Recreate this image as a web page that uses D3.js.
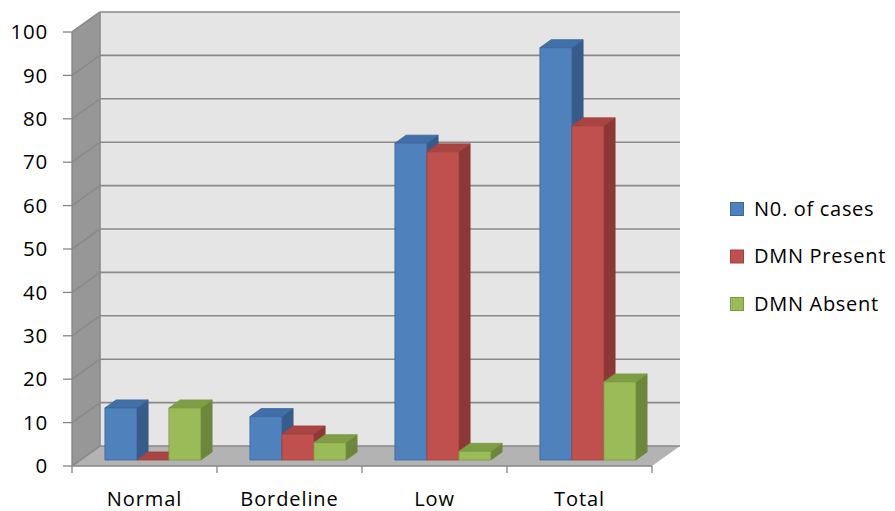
<!DOCTYPE html>
<html><head><meta charset="utf-8">
<script src="https://cdn.jsdelivr.net/npm/d3@7"></script>
<style>
html,body{margin:0;padding:0;background:#fff;}
svg{display:block;}
text{font-family:"Open Sans",sans-serif;fill:#000;}
</style></head>
<body>
<svg id="c" width="895" height="511"></svg>
<script>
const categories = ["Normal", "Bordeline", "Low", "Total"];
const seriesNames = ["N0. of cases", "DMN Present", "DMN Absent"];
const casesValues = [12, 10, 73, 95];
const presentValues = [0, 6, 71, 77];
const absentValues = [12, 4, 2, 18];
const yTicks = [0, 10, 20, 30, 40, 50, 60, 70, 80, 90, 100];
const seriesValues = [casesValues, presentValues, absentValues];

const colors = [
  {front:"#4F81BD", top:"#416FA8", side:"#375C89", stroke:"#3B6699"},
  {front:"#C0504D", top:"#A84442", side:"#8B3836", stroke:"#9E403D"},
  {front:"#9BBB59", top:"#7F9D45", side:"#6C873B", stroke:"#7C9A43"}
];

const svg = d3.select("#c");
const DX = 28, DY = -20;           // full depth offset
const x = d3.scaleBand().domain(categories).range([72, 652]);
const y = d3.scaleLinear().domain([0, 100]).range([466, 32]);
const xs = d3.scaleBand().domain(d3.range(seriesNames.length)).range([0, x.bandwidth()])
  .paddingInner(0).paddingOuter(0.766);
const P = (px, py, d) => [px + DX * d, py + DY * d];
const poly = pts => pts.map(p => p.join(",")).join(" ");

const y0 = y(0), y100 = y(100), xL = x.range()[0], xR = x.range()[1];

// back wall
svg.append("polygon").attr("points", poly([P(xL,y100,1),P(xR,y100,1),P(xR,y0,1),P(xL,y0,1)]))
  .attr("fill", "#E5E5E5");
// left wall
svg.append("polygon").attr("points", poly([[xL,y100],P(xL,y100,1),P(xL,y0,1),[xL,y0]]))
  .attr("fill", "#979797");
// floor
svg.append("polygon").attr("points", poly([[xL,y0],[xR,y0],P(xR,y0,1),P(xL,y0,1)]))
  .attr("fill", "#B3B3B3");

// gridlines
const g = svg.append("g").attr("stroke", "#8A8A8A").attr("stroke-width", 1.6).attr("fill","none");
yTicks.forEach(t => {
  const a = P(xL, y(t), 1), b = P(xR, y(t), 1);
  g.append("line").attr("x1", a[0]).attr("y1", a[1]).attr("x2", b[0]).attr("y2", b[1]);
  g.append("line").attr("x1", xL).attr("y1", y(t)).attr("x2", a[0]).attr("y2", a[1]);
});
g.append("line").attr("x1", xL+DX).attr("y1", y100+DY).attr("x2", xL+DX).attr("y2", y0+DY);

// bars
const d1 = 0.3, d2 = 0.7;
categories.forEach((c, ci) => {
  seriesNames.forEach((s, si) => {
    const v = seriesValues[si][ci];
    const bx0 = x(c) + xs(si), bx1 = bx0 + xs.bandwidth();
    const col = colors[si];
    const fTL = P(bx0, y(v), d1), fTR = P(bx1, y(v), d1), fBR = P(bx1, y0, d1), fBL = P(bx0, y0, d1);
    const bTL = P(bx0, y(v), d2), bTR = P(bx1, y(v), d2), bBR = P(bx1, y0, d2);
    const grp = svg.append("g").attr("stroke-width", 0.8).attr("stroke-linejoin","round");
    grp.append("polygon").attr("points", poly([fTR, bTR, bBR, fBR]))
      .attr("fill", col.side).attr("stroke", col.side);
    grp.append("polygon").attr("points", poly([fTL, bTL, bTR, fTR]))
      .attr("fill", col.top).attr("stroke", col.stroke);
    if (v > 0) {
      grp.append("polygon").attr("points", poly([fTL, fTR, fBR, fBL]))
        .attr("fill", col.front).attr("stroke", col.stroke);
    }
  });
});

// value axis
const ax = svg.append("g").attr("stroke", "#868686").attr("stroke-width", 1.3);
ax.append("line").attr("x1", xL).attr("x2", xL).attr("y1", y100).attr("y2", y0);
yTicks.forEach(t => {
  ax.append("line").attr("x1", xL - 9).attr("x2", xL).attr("y1", y(t)).attr("y2", y(t));
});
svg.append("g").selectAll("text").data(yTicks).join("text")
  .attr("x", 48).attr("y", d => y(d)).attr("dy", "0.35em")
  .attr("text-anchor", "end").attr("font-size", 20.5).attr("letter-spacing", 0.8)
  .text(d => d);

// category axis
ax.append("line").attr("x1", xL).attr("x2", xR).attr("y1", y0).attr("y2", y0);
const catTicks = categories.map(c => x(c)).concat([xR]);
catTicks.forEach(tx => {
  ax.append("line").attr("x1", tx).attr("x2", tx).attr("y1", y0).attr("y2", y0 + 7);
});
svg.append("g").selectAll("text").data(categories).join("text")
  .attr("x", d => x(d) + x.bandwidth() / 2).attr("y", 506)
  .attr("text-anchor", "middle").attr("font-size", 20).attr("letter-spacing", 0.9)
  .text(d => d);

// legend
const lg = svg.append("g").selectAll("g").data(seriesNames).join("g")
  .attr("transform", (d, i) => `translate(730,${202 + i * 47.5})`);
lg.append("rect").attr("x", 0.5).attr("y", 0.5).attr("width", 13).attr("height", 13)
  .attr("fill", (d, i) => colors[i].front).attr("stroke", (d, i) => colors[i].stroke);
lg.append("text").attr("x", 24).attr("y", 13.5).attr("font-size", 20).attr("letter-spacing", 0.7)
  .text(d => d);
</script>
</body></html>
